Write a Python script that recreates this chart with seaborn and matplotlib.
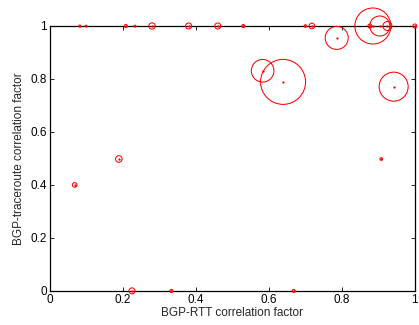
# BGP-RTT vs BGP-traceroute correlation scatter (MATLAB-like look)
import numpy as np
import pandas as pd
import matplotlib
matplotlib.use("Agg")
import matplotlib.pyplot as plt
import seaborn as sns

# --- data
rtt_corr = [0.082, 0.099, 0.208, 0.233, 0.280, 0.380, 0.460, 0.530, 0.700, 0.718,
            0.877, 0.885, 0.904, 0.925, 1.000,
            0.786, 0.583, 0.639, 0.942, 0.189, 0.068, 0.225, 0.333, 0.668, 0.908]
trace_corr = [1, 1, 1, 1, 1, 1, 1, 1, 1, 1,
              1, 1, 1, 1, 1,
              0.955, 0.831, 0.789, 0.771, 0.498, 0.400, 0.0, 0.0, 0.0, 0.498]
# circle radius (pixels) of each point
radius_px = [1.0, 0.8, 1.5, 0.8, 3.2, 3.0, 3.0, 1.5, 1.3, 2.8,
             2.0, 18.0, 10.0, 4.5, 2.0,
             11.5, 11.3, 22.5, 14.5, 3.3, 2.3, 3.0, 1.5, 1.5, 1.3]

df = pd.DataFrame({"rtt": rtt_corr, "trace": trace_corr, "r": radius_px})
dpi = 100
df["s"] = (2 * df["r"] * 72 / dpi) ** 2

sns.set_style("ticks")
plt.rcParams["font.family"] = ["Liberation Sans", "DejaVu Sans"]

fig = plt.figure(figsize=(4.19, 3.25), dpi=dpi)
ax = fig.add_axes([0.119, 0.105, 0.871, 0.815])

sns.scatterplot(data=df, x="rtt", y="trace", s=df["s"].values, marker="o",
                facecolors="none", edgecolor="red", linewidth=0.75,
                clip_on=False, zorder=3, ax=ax, legend=False)
ax.plot(df["rtt"], df["trace"], ".", color="red", markersize=1.3,
        clip_on=False, zorder=4)

ax.set_xlim(0, 1)
ax.set_ylim(0, 1)
ticks = [0, 0.2, 0.4, 0.6, 0.8, 1]
labels = ["0", "0.2", "0.4", "0.6", "0.8", "1"]
ax.set_xticks(ticks)
ax.set_xticklabels(labels)
ax.set_yticks(ticks)
ax.set_yticklabels(labels)
ax.tick_params(direction="in", length=3, width=0.6, top=True, right=True,
               labelsize=8.5, pad=2, colors="black")
for sp in ax.spines.values():
    sp.set_visible(True)
    sp.set_linewidth(0.9)
    sp.set_color("black")

ax.set_xlabel("BGP-RTT correlation factor", fontsize=8.5, labelpad=1)
ax.set_ylabel("BGP-traceroute correlation factor", fontsize=8.5, labelpad=4)

fig.savefig("out.png", dpi=dpi)
